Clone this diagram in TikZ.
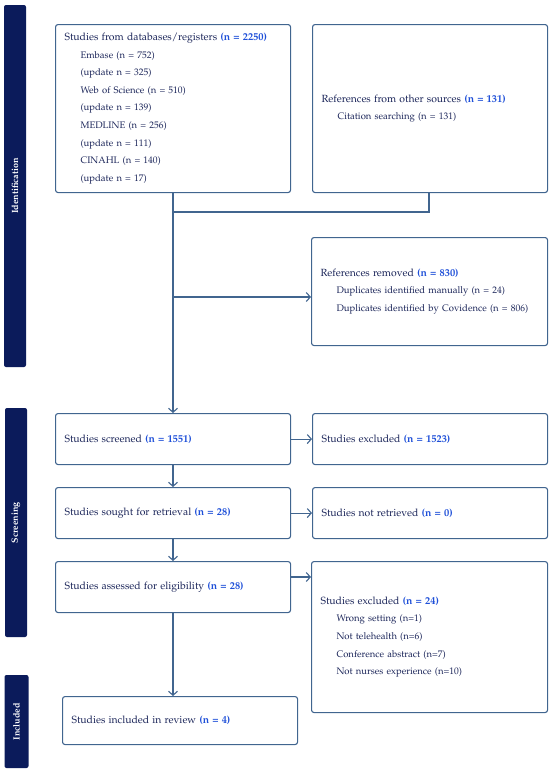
\documentclass[tikz,border=0pt]{standalone}
\usepackage[T1]{fontenc}
\renewcommand{\rmdefault}{ppl}
\usetikzlibrary{arrows.meta}
\definecolor{boxline}{HTML}{41658F}
\definecolor{txt}{HTML}{1B2559}
\definecolor{nblue}{HTML}{1E4FD8}
\definecolor{barfill}{HTML}{0B1B5B}
\newcommand{\nn}[1]{\textcolor{nblue}{\textbf{#1}}}
\newcommand{\hd}[1]{{\fontsize{10.4}{17.6}\selectfont #1}}
\newcommand{\ind}{\hspace*{16pt}}
\tikzset{
  box/.style={draw=boxline, line width=1.1pt, rounded corners=2.5pt, anchor=north west,
    text=txt, align=left, inner xsep=9pt, inner ysep=0pt,
    font=\fontsize{9.5}{17.6}\selectfont},
  sidebar/.style={fill=barfill, rounded corners=2pt, rotate=90, text=white,
    font=\fontsize{9}{10}\selectfont\bfseries, inner sep=0pt},
  conn/.style={draw=boxline, line width=1.1pt},
  arr/.style={conn, -{Straight Barb[length=4pt,width=9pt,line width=1.1pt]}}
}
\begin{document}
\begin{tikzpicture}[x=1pt,y=-1pt]
\useasboundingbox (0,0) rectangle (550,772);
% side bars
\node[sidebar, minimum width=362pt, minimum height=22pt] (idbar) at (15,186) {Identification};
\node[sidebar, minimum width=229pt, minimum height=22pt] (scbar) at (16,522.5) {Screening};
\node[sidebar, minimum width=93pt, minimum height=24pt] (inbar) at (16.5,721.5) {Included};
% boxes
\node[box, minimum width=235pt, minimum height=168pt, text width=217pt] (db) at (55,24)
 {\hd{Studies from databases/registers \nn{(n = 2250)}}\\
  \ind Embase (n = 752)\\
  \ind (update n = 325)\\
  \ind Web of Science (n = 510)\\
  \ind (update n = 139)\\
  \ind MEDLINE (n = 256)\\
  \ind (update n = 111)\\
  \ind CINAHL (n = 140)\\
  \ind (update n = 17)};
\node[box, minimum width=235pt, minimum height=168pt, text width=217pt] (other) at (312,24)
 {\hd{References from other sources \nn{(n = 131)}}\\
  \ind Citation searching (n = 131)};
\node[box, minimum width=236pt, minimum height=108pt, text width=218pt] (removed) at (311,237)
 {\hd{References removed \nn{(n = 830)}}\\
  \ind Duplicates identified manually (n = 24)\\
  \ind Duplicates identified by Covidence (n = 806)};
\node[box, minimum width=235pt, minimum height=51pt, text width=217pt] (screened) at (55,413)
 {\hd{Studies screened \nn{(n = 1551)}}};
\node[box, minimum width=235pt, minimum height=51pt, text width=217pt] (excl) at (312,413)
 {\hd{Studies excluded \nn{(n = 1523)}}};
\node[box, minimum width=235pt, minimum height=51pt, text width=217pt] (sought) at (55,487)
 {\hd{Studies sought for retrieval \nn{(n = 28)}}};
\node[box, minimum width=235pt, minimum height=51pt, text width=217pt] (notret) at (312,487)
 {\hd{Studies not retrieved \nn{(n = 0)}}};
\node[box, minimum width=235pt, minimum height=51pt, text width=217pt] (assessed) at (55,561)
 {\hd{Studies assessed for eligibility \nn{(n = 28)}}};
\node[box, minimum width=236pt, minimum height=151pt, text width=218pt] (excl24) at (311,561)
 {\hd{Studies excluded \nn{(n = 24)}}\\
  \ind Wrong setting (n=1)\\
  \ind Not telehealth (n=6)\\
  \ind Conference abstract (n=7)\\
  \ind Not nurses experience (n=10)};
\node[box, minimum width=235pt, minimum height=48pt, text width=217pt] (incl) at (62,696)
 {\hd{Studies included in review \nn{(n = 4)}}};
% connectors
\coordinate (join) at (173,212);
\coordinate (branch) at (173,297);
\draw[arr] (db.south -| join) -- (screened.north -| join);
\draw[conn] (other.south -| 429,0) |- (join);
\draw[arr] (branch) -- (removed.west |- branch);
\draw[arr] (screened) -- (excl);
\draw[arr] (screened.south -| join) -- (sought.north -| join);
\draw[arr] (sought) -- (notret);
\draw[arr] (sought.south -| join) -- (assessed.north -| join);
\coordinate (aexit) at (290,577);
\draw[arr] (aexit) -- (excl24.west |- aexit);
\draw[arr] (assessed.south -| join) -- (incl.north -| join);
\end{tikzpicture}
\end{document}
